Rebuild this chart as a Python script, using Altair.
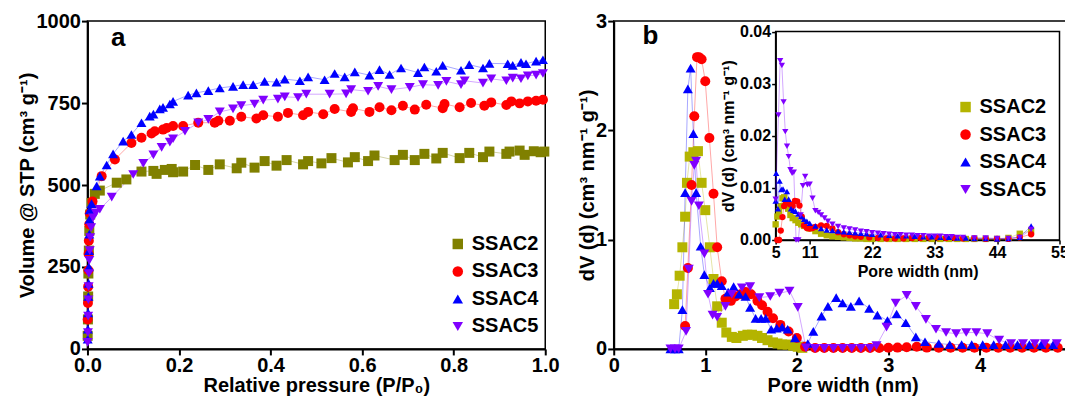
import altair as alt
import pandas as pd

FONT = "Liberation Sans"
series = ["SSAC2", "SSAC3", "SSAC4", "SSAC5"]
shapes = ["square", "circle", "triangle-up", "triangle-down"]
colors_a = ["#808000", "#ff0000", "#0000ff", "#8000ff"]
colors_b = ["#b4b400", "#ff0000", "#0000ff", "#8000ff"]

# ---------------- panel a: isotherms ----------------
a_x = {
    "SSAC2": [0.0005, 0.001, 0.0015, 0.002, 0.003, 0.004, 0.006, 0.009, 0.016, 0.027, 0.064, 0.085, 0.118,
              0.144, 0.151, 0.169, 0.184, 0.187, 0.209, 0.235, 0.264, 0.289, 0.326, 0.336, 0.365, 0.387,
              0.413, 0.435, 0.471, 0.482, 0.511, 0.533, 0.569, 0.584, 0.613, 0.627, 0.671, 0.689, 0.715,
              0.736, 0.762, 0.776, 0.813, 0.834, 0.864, 0.878, 0.915, 0.922, 0.944, 0.955, 0.975, 0.99, 0.998],
    "SSAC3": [0.0005, 0.001, 0.0015, 0.002, 0.0025, 0.003, 0.004, 0.005, 0.011, 0.031, 0.060, 0.096, 0.118,
              0.140, 0.147, 0.165, 0.173, 0.187, 0.209, 0.242, 0.278, 0.286, 0.311, 0.336, 0.369, 0.384,
              0.416, 0.438, 0.471, 0.482, 0.515, 0.540, 0.576, 0.580, 0.616, 0.638, 0.664, 0.689, 0.715,
              0.740, 0.776, 0.780, 0.813, 0.838, 0.867, 0.882, 0.915, 0.926, 0.944, 0.962, 0.98, 0.995],
    "SSAC4": [0.0005, 0.001, 0.0015, 0.002, 0.0025, 0.003, 0.0035, 0.004, 0.0045, 0.005, 0.009, 0.020, 0.027,
              0.042, 0.056, 0.078, 0.096, 0.118, 0.136, 0.144, 0.158, 0.165, 0.180, 0.187, 0.220, 0.238,
              0.264, 0.289, 0.318, 0.340, 0.362, 0.387, 0.413, 0.431, 0.464, 0.482, 0.518, 0.540, 0.562,
              0.584, 0.616, 0.638, 0.660, 0.685, 0.722, 0.736, 0.762, 0.776, 0.816, 0.834, 0.864, 0.878,
              0.918, 0.929, 0.947, 0.958, 0.98, 0.995],
    "SSAC5": [0.0005, 0.001, 0.0015, 0.002, 0.0025, 0.003, 0.004, 0.005, 0.006, 0.008, 0.012, 0.018, 0.027,
              0.053, 0.100, 0.122, 0.144, 0.162, 0.180, 0.187, 0.213, 0.242, 0.264, 0.289, 0.318, 0.336,
              0.365, 0.384, 0.416, 0.431, 0.460, 0.478, 0.529, 0.565, 0.576, 0.613, 0.635, 0.664, 0.704,
              0.733, 0.766, 0.784, 0.816, 0.824, 0.864, 0.882, 0.915, 0.929, 0.947, 0.962, 0.98, 0.995],
}
a_y = {
    "SSAC2": [40, 90, 160, 230, 300, 360, 410, 445, 473, 483, 507, 517, 541, 543, 534, 546, 549, 539, 541,
              561, 546, 563, 551, 568, 553, 573, 559, 576, 563, 573, 566, 582, 569, 585, 573, 590, 576, 592,
              576, 595, 581, 598, 582, 598, 585, 602, 595, 602, 605, 592, 603, 600, 602],
    "SSAC3": [90, 140, 190, 240, 290, 330, 380, 414, 450, 527, 578, 628, 644, 657, 664, 669, 674, 680, 680,
              690, 690, 696, 696, 708, 703, 713, 708, 720, 713, 723, 716, 732, 723, 734, 723, 737, 728, 742,
              730, 745, 734, 747, 737, 750, 742, 752, 744, 755, 749, 755, 757, 760],
    "SSAC4": [30, 60, 110, 160, 200, 250, 300, 350, 395, 424, 443, 497, 527, 561, 595, 634, 654, 690, 710,
              716, 732, 737, 747, 755, 774, 781, 788, 796, 801, 806, 806, 816, 814, 823, 818, 830, 821, 840,
              830, 845, 835, 852, 837, 857, 843, 860, 847, 865, 850, 867, 857, 871, 870, 865, 874, 870, 878, 882],
    "SSAC5": [20, 50, 100, 150, 190, 230, 270, 300, 340, 370, 400, 415, 426, 463, 532, 566, 592, 615, 631,
              641, 664, 690, 700, 723, 732, 742, 747, 759, 762, 769, 767, 777, 777, 778, 791, 786, 801, 791,
              798, 806, 804, 816, 806, 818, 811, 824, 818, 826, 824, 833, 835, 840],
}

# ---------------- panel b: pore size distribution ----------------
b_x = {
    "SSAC2": [0.66, 0.69, 0.72, 0.75, 0.78, 0.80, 0.83, 0.87, 0.92, 0.96, 1.00, 1.05, 1.09, 1.13, 1.18, 1.23,
              1.29, 1.34, 1.41, 1.46, 1.51, 1.57, 1.62, 1.68, 1.74, 1.79, 1.84, 1.90, 1.96, 2.01, 2.06],
    "SSAC3": [0.78, 0.81, 0.85, 0.88, 0.91, 0.93, 0.96, 1.00, 1.045, 1.09, 1.13, 1.18, 1.22, 1.28, 1.33, 1.39,
              1.44, 1.50, 1.57, 1.62, 1.68, 1.74, 1.82, 1.91, 2.00, 2.09, 2.2, 2.3, 2.4, 2.5, 2.6, 2.7, 2.8,
              2.9, 3.0, 3.1, 3.2, 3.31, 3.42, 3.55, 3.68, 3.81, 3.94, 4.07, 4.2, 4.33, 4.46, 4.59, 4.72, 4.85],
    "SSAC4": [0.62, 0.67, 0.71, 0.75, 0.78, 0.81, 0.84, 0.87, 0.90, 0.95, 0.99, 1.05, 1.09, 1.13, 1.18, 1.25,
              1.31, 1.37, 1.44, 1.49, 1.55, 1.61, 1.66, 1.72, 1.78, 1.84, 1.90, 1.98, 2.12, 2.18, 2.27, 2.34,
              2.43, 2.50, 2.59, 2.68, 2.79, 2.88, 2.99, 3.09, 3.19, 3.30, 3.40, 3.55, 3.67, 3.80, 3.91, 4.03,
              4.15, 4.28, 4.41, 4.54, 4.67, 4.80],
    "SSAC5": [0.62, 0.67, 0.71, 0.79, 0.82, 0.85, 0.88, 0.90, 0.93, 0.99, 1.03, 1.08, 1.13, 1.22, 1.29, 1.40,
              1.49, 1.59, 1.71, 1.81, 1.92, 2.01, 2.10, 2.2, 2.3, 2.4, 2.5, 2.6, 2.7, 2.8, 2.87, 2.98, 3.08,
              3.20, 3.30, 3.41, 3.52, 3.63, 3.74, 3.85, 3.96, 4.08, 4.21, 4.34, 4.47, 4.60, 4.71, 4.84],
}
b_y = {
    "SSAC2": [0.41, 0.50, 0.67, 0.93, 1.21, 1.52, 1.76, 1.80, 1.81, 1.52, 1.27, 0.93, 0.64, 0.39, 0.24, 0.15,
              0.11, 0.10, 0.12, 0.13, 0.13, 0.12, 0.10, 0.08, 0.06, 0.05, 0.04, 0.04, 0.03, 0.02, 0.01],
    "SSAC3": [0.21, 0.74, 1.50, 2.13, 2.67, 2.67, 2.65, 2.45, 1.93, 1.42, 0.93, 0.62, 0.46, 0.44, 0.48, 0.50,
              0.52, 0.50, 0.44, 0.40, 0.34, 0.28, 0.22, 0.16, 0.10, 0.02, 0.008, 0.008, 0.008, 0.008, 0.008,
              0.008, 0.008, 0.008, 0.01, 0.012, 0.015, 0.02, 0.012, 0.01, 0.01, 0.01, 0.01, 0.01, 0.01, 0.01,
              0.01, 0.01, 0.01, 0.01],
    "SSAC4": [0, 0, 0, 0.36, 1.43, 2.38, 2.57, 1.97, 1.43, 0.94, 0.68, 0.56, 0.60, 0.60, 0.58, 0.52, 0.57,
              0.50, 0.48, 0.38, 0.28, 0.28, 0.28, 0.18, 0.19, 0.20, 0.18, 0.10, 0.05, 0.16, 0.30, 0.39, 0.47,
              0.42, 0.39, 0.44, 0.37, 0.31, 0.26, 0.32, 0.24, 0.11, 0.066, 0.05, 0.04, 0.04, 0.04, 0.04, 0.04,
              0.04, 0.04, 0.04, 0.04, 0.04],
    "SSAC5": [0, 0, 0, 0.16, 0.73, 1.35, 1.68, 1.72, 1.31, 0.87, 0.50, 0.31, 0.29, 0.39, 0.50, 0.56, 0.57,
              0.47, 0.48, 0.51, 0.53, 0.38, 0.01, 0.005, 0.005, 0.005, 0.005, 0.005, 0.005, 0.005, 0.03, 0.20,
              0.42, 0.49, 0.39, 0.27, 0.18, 0.15, 0.14, 0.15, 0.15, 0.14, 0.08, 0.05, 0.05, 0.05, 0.05, 0.05],
}

# ---------------- inset ----------------
i_x = {
    "SSAC2": [5.0, 5.3, 5.6, 5.9, 6.2, 6.5, 6.8, 7.2, 7.6, 8.0, 8.5, 9.0, 9.5, 10.0, 11.0, 12.0, 13.0, 14.0,
              15.0, 16.0, 17.0, 18.0, 19.0, 20.0, 21.0, 22.0, 23.5, 25.0, 26.5, 28.0, 29.5, 31.0, 32.5, 34.0,
              35.5, 37.0, 38.5, 40.0, 42.0, 44.0, 46.0, 48.0, 50.0],
    "SSAC3": [5.3, 5.6, 5.9, 6.2, 6.5, 6.8, 7.2, 7.6, 8.0, 8.4, 8.8, 9.2, 9.6, 10.0, 10.5, 11.0, 11.5, 12.0,
              13.0, 14.0, 15.0, 16.0, 17.0, 18.0, 19.0, 20.0, 21.5, 23.0, 24.5, 26.0, 27.5, 29.0, 30.5, 32.0,
              33.5, 35.0, 36.5, 38.0, 40.0, 42.0, 44.0, 46.0, 48.0, 50.0],
    "SSAC4": [5.0, 5.1, 5.4, 5.7, 6.0, 6.3, 6.6, 7.0, 7.3, 7.7, 8.1, 8.5, 9.0, 9.5, 10.0, 10.5, 11.0, 12.0,
              13.0, 14.0, 15.0, 16.0, 17.0, 18.0, 19.0, 20.0, 21.0, 22.0, 23.5, 25.0, 26.5, 28.0, 29.5, 31.0,
              32.5, 34.0, 35.5, 37.0, 38.5, 40.0, 42.0, 44.0, 46.0, 48.0, 50.0],
    "SSAC5": [5.0, 5.5, 5.8, 6.1, 6.4, 6.7, 7.0, 7.3, 7.6, 7.9, 8.2, 8.6, 9.0, 9.4, 9.8, 10.2, 10.6, 11.0,
              11.5, 12.0, 12.5, 13.0, 13.6, 14.2, 15.0, 16.0, 17.0, 18.0, 19.0, 20.0, 21.0, 22.0, 23.0, 24.0,
              25.0, 26.0, 27.0, 28.0, 29.0, 30.0, 31.0, 32.0, 33.0, 34.0, 35.0, 36.0, 37.0, 38.0, 40.0, 42.0,
              44.0, 46.0, 48.0, 50.0],
}
i_y = {
    "SSAC2": [0.003, 0.0045, 0.0055, 0.0065, 0.008, 0.0082, 0.0075, 0.006, 0.0048, 0.0042, 0.0038, 0.0033,
              0.003, 0.0027, 0.0022, 0.0017, 0.0012, 0.0009, 0.0007, 0.0006, 0.0005, 0.0004, 0.0003, 0.0003,
              0.0002, 0.0002, 0.0002, 0.0002, 0.0002, 0.0002, 0.0002, 0.0002, 0.0002, 0.0002, 0.0002, 0.0002,
              0.0002, 0.0002, 0.0002, 0.0002, 0.0004, 0.0012, 0.0018],
    "SSAC3": [0.0, 0.0, 0.0018, 0.0044, 0.0065, 0.007, 0.0072, 0.0068, 0.0065, 0.0075, 0.0074, 0.0066, 0.0045,
              0.0028, 0.0023, 0.0022, 0.0023, 0.0025, 0.0028, 0.0027, 0.0022, 0.0015, 0.0011, 0.0009, 0.0007,
              0.0006, 0.0005, 0.0004, 0.0003, 0.0003, 0.0003, 0.0004, 0.0004, 0.0005, 0.0005, 0.0004, 0.0004,
              0.0003, 0.0003, 0.0002, 0.0002, 0.0002, 0.0005, 0.0011],
    "SSAC4": [0.0075, 0.0128, 0.006, 0.0113, 0.0097, 0.0098, 0.0078, 0.0093, 0.0078, 0.006, 0.0057, 0.0055,
              0.005, 0.0045, 0.004, 0.0036, 0.0032, 0.0027, 0.0022, 0.0019, 0.0018, 0.0017, 0.0016, 0.0015,
              0.0014, 0.0013, 0.0012, 0.0011, 0.001, 0.0009, 0.0008, 0.0008, 0.0007, 0.0006, 0.0006, 0.0005,
              0.0005, 0.0004, 0.0004, 0.0003, 0.0003, 0.0002, 0.0003, 0.0005, 0.0027],
    "SSAC5": [0.0078, 0.024, 0.0344, 0.0335, 0.0265, 0.0208, 0.018, 0.016, 0.0135, 0.0128, 0.013, 0.0, 0.0,
              0.0048, 0.0104, 0.0122, 0.0106, 0.0107, 0.008, 0.0056, 0.0053, 0.0048, 0.0042, 0.0036, 0.003,
              0.0026, 0.0023, 0.0021, 0.0019, 0.0017, 0.0016, 0.0014, 0.0013, 0.0012, 0.0011, 0.001, 0.001,
              0.0009, 0.0009, 0.0008, 0.0008, 0.0007, 0.0007, 0.0007, 0.0006, 0.0006, 0.0005, 0.0005, 0.0004,
              0.0004, 0.0003, 0.0003, 0.0005, 0.002],
}

a_xticks = [0.0, 0.2, 0.4, 0.6, 0.8, 1.0]
a_yticks = [0, 250, 500, 750, 1000]
b_xticks = [0, 1, 2, 3, 4, 5]
b_yticks = [0, 1, 2, 3]
i_xticks = [5, 11, 22, 33, 44, 55]
i_yticks = [0.0, 0.01, 0.02, 0.03, 0.04]
a_dom_x, a_dom_y = [0, 1], [0, 1000]
b_dom_x, b_dom_y = [0, 5], [0, 3]
i_dom_x, i_dom_y = [5, 55], [0, 0.04]

W_A, H_A = 458, 328
W_B, H_B = 458, 328
# inset placement inside panel b (pixels)
INS_X = [162, 446]
INS_Y = [219, 10.5]


def make_df(xs, ys):
    rows = []
    for s in series:
        for x, y in zip(xs[s], ys[s]):
            rows.append({"s": s, "sl": s, "x": x, "y": y})
    return pd.DataFrame(rows)


df_a = make_df(a_x, a_y)
df_b = make_df(b_x, b_y)
df_i = make_df(i_x, i_y)


def legend(lx, ly):
    return alt.Legend(title=None, orient="none", legendX=lx, legendY=ly, padding=0,
                      labelFont=FONT, labelFontSize=20, labelFontWeight="bold", labelColor="black",
                      symbolSize=110, rowPadding=7.5, labelOffset=4, symbolStrokeWidth=0)


def series_layers(df, xenc, yenc, colors, lg, size):
    color = alt.Color("s:N", scale=alt.Scale(domain=series, range=colors), legend=lg)
    shape = alt.Shape("s:N", scale=alt.Scale(domain=series, range=shapes), legend=lg)
    stroke = alt.Stroke("sl:N", scale=alt.Scale(range=colors), legend=None)
    base = alt.Chart(df)
    lines = base.mark_line(strokeWidth=1, opacity=0.35).encode(
        x=xenc, y=yenc, stroke=stroke, detail="sl:N", order="x:Q")
    pts = base.mark_point(filled=True, size=size, opacity=1, strokeWidth=0).encode(
        x=xenc, y=yenc, color=color, shape=shape)
    return lines, pts


# ---- panel a
xa = alt.X("x:Q", scale=alt.Scale(domain=a_dom_x, nice=False, zero=False),
           axis=alt.Axis(values=a_xticks, format=".1f", title="Relative pressure (P/P₀)"))
ya = alt.Y("y:Q", scale=alt.Scale(domain=a_dom_y, nice=False),
           axis=alt.Axis(values=a_yticks, format="d", title="Volume @ STP (cm³ g⁻¹)", titlePadding=-2))
la, pa = series_layers(df_a, xa, ya, colors_a, legend(360.5, 213), 100)
lab_a = alt.Chart(pd.DataFrame({"x": [0.067], "y": [949], "t": ["a"]})).mark_text(
    font=FONT, fontSize=26, fontWeight="bold", color="black", baseline="middle", align="center"
).encode(x=alt.X("x:Q"), y=alt.Y("y:Q"), text="t:N")
panel_a = alt.layer(la, pa, lab_a).properties(width=W_A, height=H_A)

# ---- panel b main
xb = alt.X("x:Q", scale=alt.Scale(domain=b_dom_x, nice=False, zero=False),
           axis=alt.Axis(values=b_xticks, format="d", title="Pore width (nm)"))
yb = alt.Y("y:Q", scale=alt.Scale(domain=b_dom_y, nice=False),
           axis=alt.Axis(values=b_yticks, format="d", title="dV (d) (cm³ nm⁻¹ g⁻¹)", titlePadding=-2))
lb, pb = series_layers(df_b, xb, yb, colors_b, legend(342, 76), 100)
lab_b = alt.Chart(pd.DataFrame({"x": [0.40], "y": [2.86], "t": ["b"]})).mark_text(
    font=FONT, fontSize=26, fontWeight="bold", color="black", baseline="middle", align="center"
).encode(x=alt.X("x:Q"), y=alt.Y("y:Q"), text="t:N")
main_b = alt.layer(lb, pb, lab_b)

# ---- inset
inset_axis_common = dict(labelFontSize=16, titleFontSize=16, tickSize=4, tickWidth=1.5,
                         domainWidth=1.5, labelPadding=1, titlePadding=3)
xi = alt.X("x:Q", scale=alt.Scale(domain=i_dom_x, range=INS_X, nice=False, zero=False),
           axis=alt.Axis(values=i_xticks, format="d", title="Pore width (nm)", orient="bottom",
                         offset=INS_Y[0] - H_B, **inset_axis_common))
yi = alt.Y("y:Q", scale=alt.Scale(domain=i_dom_y, range=INS_Y, nice=False, zero=False),
           axis=alt.Axis(values=i_yticks, format=".2f", title="dV (d) (cm³ nm⁻¹ g⁻¹)", orient="left",
                         offset=-INS_X[0], **inset_axis_common))
frame_df = pd.DataFrame({"x": [i_dom_x[0]], "x2": [i_dom_x[1]], "y": [i_dom_y[0]], "y2": [i_dom_y[1]]})
frame_i = alt.Chart(frame_df).mark_rect(fillOpacity=0, stroke="black", strokeWidth=1.5).encode(
    x=xi, x2="x2:Q", y=yi, y2="y2:Q")
li, pi = series_layers(df_i, xi, yi, colors_b, legend(342, 76), 40)
inset = alt.layer(frame_i, li, pi)

panel_b = alt.layer(main_b, inset).resolve_scale(x="independent", y="independent").properties(
    width=W_B, height=H_B)

chart = alt.hconcat(panel_a, panel_b, spacing=16.5).resolve_scale(
    color="independent", shape="independent", stroke="independent"
).properties(padding={"left": 8.5, "top": 2, "right": -13, "bottom": 0}).configure(
    font=FONT
).configure_view(
    stroke="black", strokeWidth=1.5
).configure_axis(
    labelFont=FONT, labelFontSize=20, labelFontWeight="bold", labelColor="black",
    titleFont=FONT, titleFontSize=20, titleFontWeight="bold", titleColor="black",
    domainColor="black", domainWidth=2, tickColor="black", tickWidth=2, tickSize=6,
    grid=False, labelPadding=1, titlePadding=0, labelFlush=False, labelOverlap=False
)

chart.save("out.html", embed_options={"renderer": "svg", "actions": False})
